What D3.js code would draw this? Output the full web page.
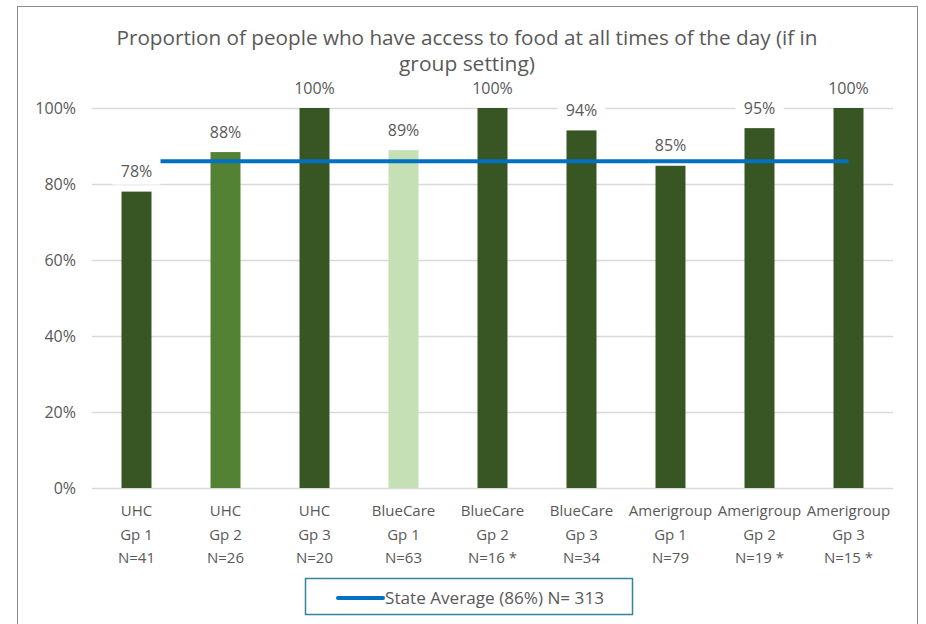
<!DOCTYPE html>
<html><head><meta charset="utf-8">
<script src="https://cdn.jsdelivr.net/npm/d3@7"></script>
<style>
html,body{margin:0;padding:0;background:#fff;}
svg{display:block;font-family:"Open Sans",sans-serif;}
</style></head>
<body>
<svg id="chart" width="926" height="624"></svg>
<script>
const categories = [
  ["UHC","Gp 1","N=41"],
  ["UHC","Gp 2","N=26"],
  ["UHC","Gp 3","N=20"],
  ["BlueCare","Gp 1","N=63"],
  ["BlueCare","Gp 2","N=16 *"],
  ["BlueCare","Gp 3","N=34"],
  ["Amerigroup","Gp 1","N=79"],
  ["Amerigroup","Gp 2","N=19 *"],
  ["Amerigroup","Gp 3","N=15 *"]
];
const values = [0.780, 0.884, 1.00, 0.889, 1.00, 0.941, 0.848, 0.947, 1.00];
const barColors = ["#375623","#548235","#375623","#C5E0B4","#375623","#375623","#375623","#375623","#375623"];
const stateAverage = 0.86;
const legendLabel = "State Average (86%) N= 313";
const yTicks = [0, 0.2, 0.4, 0.6, 0.8, 1.0];
const titleLines = ["Proportion of people who have access to food at all times of the day (if in", "group setting)"];

const svg = d3.select("#chart");
const textColor = "#595959";

// outer frame
svg.append("rect").attr("x",17.5).attr("y",6.5).attr("width",900).attr("height",640)
  .attr("fill","none").attr("stroke","#8c8c8c").attr("stroke-width",1);

const plot = {left:92, right:893, top:108, bottom:488};
const x = d3.scaleBand().domain(d3.range(categories.length)).range([plot.left, plot.right]).paddingInner(0.663).paddingOuter(0.3315);
const y = d3.scaleLinear().domain([0,1]).range([plot.bottom, plot.top]);

// title
const titleWidths = [701, 136];
svg.append("g").selectAll("text").data(titleLines).join("text")
  .attr("x",467).attr("y",(d,i)=>45+i*25.5)
  .attr("text-anchor","middle").attr("fill",textColor)
  .attr("font-size",19.5)
  .attr("textLength",(d,i)=>titleWidths[i]).attr("lengthAdjust","spacingAndGlyphs")
  .text(d=>d);

// gridlines
svg.append("g").selectAll("line").data(yTicks).join("line")
  .attr("x1",plot.left).attr("x2",plot.right)
  .attr("y1",d=>y(d)+0.5).attr("y2",d=>y(d)+0.5)
  .attr("stroke","#d9d9d9").attr("stroke-width",1.3);

// y axis labels
const yAxis = d3.axisLeft(y).tickValues(yTicks).tickFormat(d3.format(".0%")).tickSize(0).tickPadding(0);
const ya = svg.append("g").attr("transform",`translate(76,0)`).call(yAxis);
ya.select(".domain").remove();
ya.selectAll("text").attr("fill",textColor).attr("font-size",16).attr("font-family","Open Sans");

// bars
svg.append("g").selectAll("rect").data(values).join("rect")
  .attr("x",(d,i)=>x(i)).attr("width",x.bandwidth())
  .attr("y",d=>y(d)).attr("height",d=>y(0)-y(d))
  .attr("fill",(d,i)=>barColors[i]);

// state average line
svg.append("line")
  .attr("x1",x(0)+x.bandwidth()/2).attr("x2",x(categories.length-1)+x.bandwidth()/2)
  .attr("y1",y(stateAverage)).attr("y2",y(stateAverage))
  .attr("stroke","#0070C0").attr("stroke-width",4);

// data labels with white background
const fmt = d3.format(".0%");
const lg = svg.append("g").selectAll("g").data(values).join("g")
  .attr("transform",(d,i)=>`translate(${x(i)+x.bandwidth()/2},${y(d)-20})`);
lg.append("rect").attr("x",-24).attr("y",-14).attr("width",48).attr("height",27).attr("fill","#fff");
lg.append("text").attr("text-anchor","middle").attr("dy","0.35em")
  .attr("fill",textColor).attr("font-size",16).text(d=>fmt(d));

// category labels
const cg = svg.append("g").selectAll("text").data(categories).join("text")
  .attr("text-anchor","middle").attr("fill",textColor).attr("font-size",15)
  .attr("transform",(d,i)=>`translate(${x(i)+x.bandwidth()/2},0)`);
cg.selectAll("tspan").data(d=>d).join("tspan")
  .attr("x",0).attr("y",(d,j)=>516+j*23.5).text(d=>d);

// legend
svg.append("rect").attr("x",305.5).attr("y",578.5).attr("width",327).attr("height",36)
  .attr("fill","#fff").attr("stroke","#31859C").attr("stroke-width",1.5);
svg.append("line").attr("x1",338).attr("x2",383).attr("y1",598).attr("y2",598)
  .attr("stroke","#0070C0").attr("stroke-width",4).attr("stroke-linecap","round");
svg.append("text").attr("x",385).attr("y",598).attr("dy","0.35em")
  .attr("fill",textColor).attr("font-size",16.5)
  .attr("textLength",219).attr("lengthAdjust","spacingAndGlyphs").text(legendLabel);
</script>
</body></html>
